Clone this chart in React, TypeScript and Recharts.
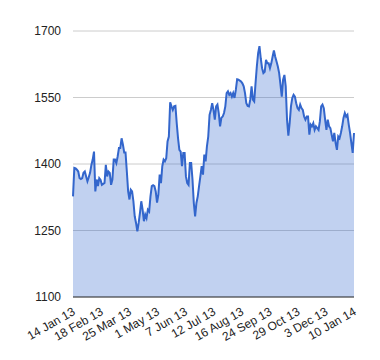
import { AreaChart, Area, XAxis, YAxis, CartesianGrid } from "recharts";

// daily close (left to right)
const closes = [
  1327, 1391, 1390, 1387, 1383, 1368, 1366, 1368, 1380, 1383, 1372, 1361, 1370, 1380,
  1398, 1410, 1428, 1338, 1365, 1350, 1368, 1364, 1353, 1355, 1357, 1398, 1372, 1383,
  1380, 1353, 1365, 1410, 1410, 1402, 1417, 1436, 1436, 1458, 1444, 1426, 1426, 1383,
  1338, 1320, 1342, 1338, 1316, 1282, 1267, 1248, 1267, 1290, 1316, 1297, 1271, 1286,
  1278, 1297, 1293, 1327, 1350, 1352, 1350, 1338, 1313, 1331, 1376, 1357, 1395, 1410,
  1406, 1413, 1451, 1462,
  1539, 1530, 1522, 1530, 1531, 1492, 1458, 1432, 1428, 1395, 1425, 1425, 1372, 1357,
  1353, 1402, 1402, 1365, 1312, 1282, 1312, 1327, 1350, 1372, 1395, 1376, 1421, 1406,
  1440, 1462, 1511, 1522, 1537, 1522, 1500, 1530, 1534, 1515, 1485, 1504, 1507, 1515,
  1530, 1560, 1564, 1556, 1560, 1552, 1560, 1549, 1567, 1591, 1590, 1588, 1586, 1582,
  1575, 1560, 1537, 1531, 1530, 1545, 1575, 1545, 1541, 1582,
  1620, 1650, 1666, 1638, 1616, 1605, 1608, 1635, 1627, 1627, 1616, 1627, 1642, 1656,
  1642, 1631, 1620, 1605, 1579, 1552, 1590, 1601, 1575, 1500, 1464, 1492, 1530, 1549,
  1556, 1552, 1537, 1526, 1522, 1534, 1526, 1522, 1507, 1500, 1507, 1507, 1466, 1489,
  1485, 1492, 1477, 1485, 1481, 1477, 1496, 1530, 1534, 1526, 1500, 1477, 1500, 1485,
  1481, 1466, 1451, 1470, 1447, 1432, 1462, 1458, 1470, 1485, 1504, 1515, 1507, 1511,
  1489, 1470, 1447, 1425, 1470,
];

const dateLabels = [
  "14 Jan 13", "18 Feb 13", "25 Mar 13", "1 May 13", "7 Jun 13", "12 Jul 13",
  "16 Aug 13", "24 Sep 13", "29 Oct 13", "3 Dec 13", "10 Jan 14",
];

const yTicks = [1100, 1250, 1400, 1550, 1700];

const last = closes.length - 1;
const data = closes.map((v, i) => ({ i, v }));
const xTicks = dateLabels.map((_, k) => (k * last) / (dateLabels.length - 1));

const FONT = "'Liberation Sans', Arial, sans-serif";

function SlantTick({ x, y, payload }: any) {
  const k = Math.round((payload.value * (dateLabels.length - 1)) / last);
  const ax = x + 3;
  const ay = y + 15;
  return (
    <text
      x={ax}
      y={ay}
      textAnchor="end"
      fontSize={12}
      fontFamily={FONT}
      fill="#222"
      transform={`rotate(-30 ${ax} ${ay})`}
    >
      {dateLabels[k]}
    </text>
  );
}

export default function App() {
  return (
    <div style={{ position: "absolute", left: 0, top: 0, width: 380, height: 360, background: "#fff" }}>
      <AreaChart width={380} height={360} data={data} margin={{ top: 31, right: 26, bottom: 0, left: 0 }}>
        <CartesianGrid vertical={false} stroke="#ccc" />
        <XAxis
          type="number"
          dataKey="i"
          domain={[0, last]}
          ticks={xTicks}
          interval={0}
          tick={<SlantTick />}
          tickLine={false}
          tickSize={0}
          axisLine={{ stroke: "#333", strokeWidth: 1 }}
          height={63}
        />
        <YAxis
          domain={[1100, 1700]}
          ticks={yTicks}
          interval={0}
          width={73}
          axisLine={false}
          tickLine={false}
          tickSize={0}
          tickMargin={12}
          tick={{ fontSize: 12, fontFamily: FONT, fill: "#222" }}
        />
        <Area
          type="linear"
          dataKey="v"
          stroke="#3366cc"
          strokeWidth={2}
          fill="#3366cc"
          fillOpacity={0.3}
          dot={false}
          activeDot={false}
          isAnimationActive={false}
        />
      </AreaChart>
    </div>
  );
}
